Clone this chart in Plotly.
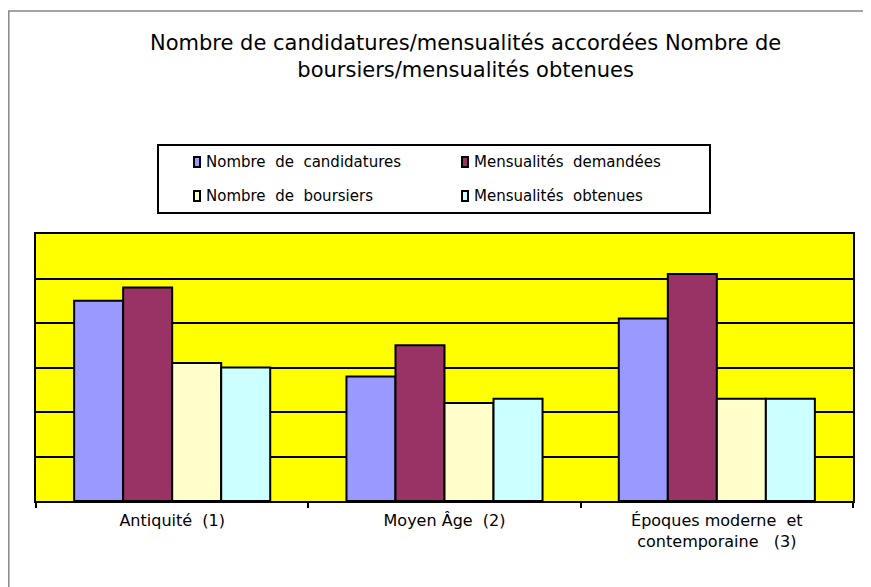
import plotly.graph_objects as go

categories = ["Antiquité\u00a0\u00a0(1)", "Moyen\u00a0Âge\u00a0\u00a0(2)",
              "Époques\u00a0moderne\u00a0\u00a0et<br>contemporaine\u00a0\u00a0\u00a0(3)"]
series_names = ["Nombre de candidatures", "Mensualités demandées",
                "Nombre de boursiers", "Mensualités obtenues"]
candidatures = [45, 28, 41]
mensualites_demandees = [48, 35, 51]
boursiers = [31, 22, 23]
mensualites_obtenues = [30, 23, 23]
colors = ["#9999FF", "#993366", "#FFFFCC", "#CCFFFF"]

# page is offset by the 8px body margin
OFF = 8
W, H = 871 - OFF, 587 - OFF
PL, PR, PT, PB = 36, 853, 234, 501  # plot area in page pixels
ML, MR, MT, MB = PL - OFF, W - (PR - OFF), PT - OFF, H - (PB - OFF)
PW, PH = PR - PL, PB - PT


def px_x(x):
    return (x - PL) / PW


def px_y(y):
    return (PB - y) / PH


fig = go.Figure()
for name, vals, col in zip(series_names,
                           [candidatures, mensualites_demandees, boursiers, mensualites_obtenues],
                           colors):
    fig.add_trace(go.Bar(x=categories, y=vals, name=name, marker_color=col,
                         marker_line=dict(color="black", width=2), showlegend=False))

shapes = []
annotations = []
# outer chart frame
shapes.append(dict(type="rect", xref="paper", yref="paper",
                   x0=px_x(8.8), x1=px_x(900), y0=px_y(650), y1=px_y(11),
                   line=dict(color="#888888", width=1.5), fillcolor="rgba(0,0,0,0)", layer="below"))
# legend box
shapes.append(dict(type="rect", xref="paper", yref="paper",
                   x0=px_x(158), x1=px_x(710), y0=px_y(213), y1=px_y(145),
                   line=dict(color="black", width=2), fillcolor="white"))
leg_pos = [(194, 162), (462, 162), (194, 196), (462, 196)]
for (lx, ly), name, col in zip(leg_pos, series_names, colors):
    shapes.append(dict(type="rect", xref="paper", yref="paper",
                       x0=px_x(lx), x1=px_x(lx + 6), y0=px_y(ly + 5), y1=px_y(ly - 5),
                       line=dict(color="black", width=2), fillcolor=col))
    annotations.append(dict(text=name.replace(" ", "\u00a0\u00a0"), xref="paper", yref="paper",
                            x=px_x(lx + 10), y=px_y(ly), xanchor="left", yanchor="middle",
                            showarrow=False, font=dict(family="DejaVu Sans", size=15, color="black")))

annotations.append(dict(text="Nombre de candidatures/mensualités accordées Nombre de<br>boursiers/mensualités obtenues",
                        xref="paper", yref="paper", x=px_x(465), y=px_y(57),
                        xanchor="center", yanchor="middle", showarrow=False,
                        font=dict(family="DejaVu Sans", size=21, color="black")))

fig.update_layout(
    width=W, height=H,
    margin=dict(l=ML, r=MR, t=MT, b=MB),
    paper_bgcolor="white", plot_bgcolor="#FFFF00",
    barmode="group", bargap=0.28, bargroupgap=0,
    shapes=shapes, annotations=annotations,
    showlegend=False,
)
fig.update_xaxes(showline=True, linecolor="black", linewidth=2, mirror=True,
                 ticks="outside", tickson="boundaries", ticklen=5, tickwidth=2, tickcolor="black",
                 tickfont=dict(family="DejaVu Sans", size=16, color="black"),
                 ticklabelstandoff=4, showgrid=False)
fig.update_yaxes(range=[0, 60], dtick=10, showline=True, linecolor="black", linewidth=2, mirror=True,
                 showgrid=True, gridcolor="black", gridwidth=2, showticklabels=False,
                 zeroline=False, ticks="")

fig.write_html("out.html")
